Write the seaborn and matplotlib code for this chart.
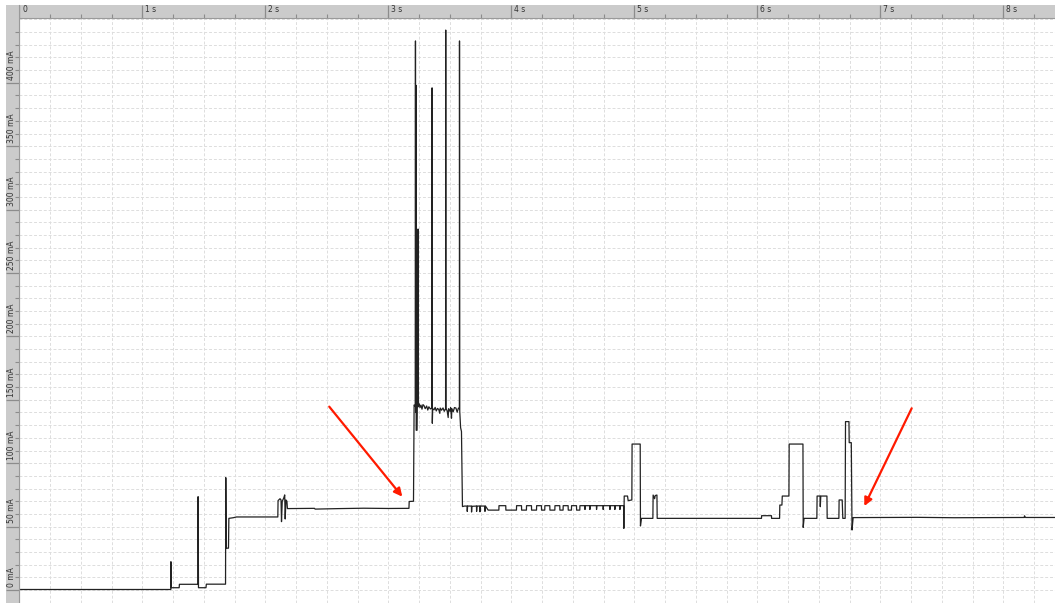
import numpy as np
import pandas as pd
import seaborn as sns
import matplotlib.pyplot as plt

# current trace (time in s, current in mA)
boot_trace = [
    (0.000, 0.4), (1.232, 0.4), (1.233, 22.3), (1.236, 1.8), (1.300, 1.8),
    (1.302, 4.5), (1.452, 4.5), (1.454, 73.6), (1.457, 1.8), (1.518, 1.8),
    (1.521, 4.6), (1.677, 4.6), (1.679, 88.6), (1.683, 33.0), (1.701, 33.0),
    (1.704, 56.5), (1.740, 57.0), (1.766, 57.6), (2.102, 57.6),
]
wake_trace = [
    (2.104, 70.5), (2.120, 72.0), (2.128, 71.0), (2.132, 53.9), (2.138, 70.0),
    (2.150, 72.5), (2.158, 75.0), (2.162, 56.0), (2.168, 71.0), (2.176, 70.0),
    (2.180, 64.2), (2.400, 64.4), (2.405, 63.8), (2.600, 64.2), (2.800, 64.5),
    (3.000, 64.3), (3.168, 64.4), (3.170, 69.8), (3.205, 70.0),
]
radio_trace = [
    (3.208, 120.0), (3.210, 145.9), (3.219, 145.0), (3.221, 433.0), (3.223, 140.0),
    (3.225, 398.0), (3.227, 126.0), (3.234, 126.0), (3.236, 145.0), (3.241, 146.0),
    (3.242, 284.7), (3.244, 144.5), (3.252, 146.8), (3.258, 143.9), (3.266, 145.8),
    (3.274, 142.6), (3.282, 146.2), (3.290, 145.5), (3.300, 143.0), (3.312, 145.1),
    (3.321, 141.9), (3.330, 144.5), (3.342, 142.8), (3.355, 143.5), (3.356, 396.0),
    (3.358, 131.5), (3.361, 143.0), (3.372, 142.1), (3.381, 144.0), (3.390, 141.2),
    (3.400, 143.2), (3.410, 142.4), (3.419, 139.3), (3.422, 143.5), (3.433, 141.8),
    (3.445, 143.6), (3.455, 140.9), (3.466, 143.0), (3.467, 441.6), (3.469, 143.0),
    (3.478, 141.5), (3.487, 136.0), (3.490, 143.0), (3.500, 141.0), (3.507, 143.8),
    (3.514, 135.5), (3.517, 143.0), (3.528, 140.6), (3.538, 143.9), (3.550, 143.5),
    (3.560, 140.2), (3.570, 143.4), (3.578, 143.0), (3.579, 433.0), (3.581, 141.0),
    (3.588, 128.0), (3.595, 125.0), (3.603, 65.8),
]
idle_trace_a = [
    (3.620, 66.2), (3.641, 66.2), (3.642, 62.0), (3.645, 66.2), (3.676, 66.2),
    (3.677, 61.5), (3.680, 66.0), (3.717, 66.2), (3.718, 62.0), (3.721, 66.2),
    (3.744, 66.2), (3.745, 61.7), (3.748, 66.2), (3.785, 66.2), (3.786, 62.0),
    (3.790, 66.2), (3.812, 63.0), (3.899, 63.0), (3.900, 66.5), (3.955, 66.5),
    (3.956, 63.0), (4.042, 63.0), (4.043, 66.5), (4.083, 66.5), (4.084, 63.0),
    (4.123, 63.0), (4.124, 66.5), (4.164, 66.5), (4.165, 63.0), (4.205, 63.0),
    (4.206, 66.5), (4.245, 66.5), (4.246, 63.0), (4.272, 63.0), (4.273, 66.5),
    (4.313, 66.5), (4.314, 63.0), (4.354, 63.0), (4.355, 66.5), (4.394, 66.5),
]
idle_trace_b = [
    (4.395, 63.0), (4.421, 63.0), (4.422, 66.5), (4.462, 66.5), (4.463, 63.0),
    (4.489, 63.0), (4.490, 66.5), (4.530, 66.5), (4.531, 63.0), (4.557, 63.0),
    (4.558, 66.5), (4.598, 66.5), (4.599, 63.5), (4.602, 66.5), (4.638, 66.5),
    (4.639, 63.5), (4.642, 66.5), (4.692, 66.5), (4.693, 63.5), (4.696, 66.5),
    (4.746, 66.5), (4.747, 63.5), (4.750, 66.5), (4.801, 66.5), (4.802, 63.5),
    (4.805, 66.5), (4.841, 66.5), (4.842, 63.5), (4.845, 66.5), (4.882, 66.5),
    (4.883, 63.5), (4.886, 66.5), (4.913, 66.5),
]
sync_trace = [
    (4.915, 48.6), (4.918, 74.1), (4.945, 74.1), (4.950, 70.5), (4.980, 71.0),
    (4.982, 115.1), (5.048, 115.1), (5.050, 50.5), (5.058, 56.5), (5.151, 56.5),
    (5.153, 74.9), (5.165, 72.0), (5.170, 74.5), (5.184, 74.9), (5.186, 56.5),
    (6.034, 56.5), (6.035, 58.6), (6.115, 58.6), (6.116, 56.5), (6.181, 56.5),
    (6.183, 67.0), (6.200, 67.0), (6.203, 74.1), (6.257, 74.1), (6.259, 115.1),
    (6.371, 115.1), (6.373, 49.4), (6.380, 56.5), (6.484, 56.5), (6.486, 74.1),
    (6.510, 74.1), (6.512, 65.7), (6.516, 74.1), (6.566, 74.1), (6.568, 56.5),
    (6.663, 56.5), (6.665, 71.0), (6.690, 71.0), (6.695, 56.5), (6.714, 56.5),
    (6.717, 132.8), (6.745, 132.8), (6.747, 116.2), (6.764, 116.2), (6.770, 47.3),
    (6.779, 57.1),
]
tail_trace = [
    (6.790, 57.1), (7.300, 57.3), (7.600, 57.0), (8.000, 57.2), (8.170, 57.2),
    (8.172, 58.5), (8.180, 57.2), (8.420, 57.2),
]

time_ticks = [0, 1, 2, 3, 4, 5, 6, 7, 8]
time_labels = ["0", "1 s", "2 s", "3 s", "4 s", "5 s", "6 s", "7 s", "8 s"]
current_ticks = [0, 50, 100, 150, 200, 250, 300, 350, 400]
current_labels = ["0 mA", "50 mA", "100 mA", "150 mA", "200 mA",
                  "250 mA", "300 mA", "350 mA", "400 mA"]

# arrows pointing at the idle levels (start -> tip)
arrows = [((2.520, 144.6), (3.114, 73.6)), ((7.255, 143.3), (6.870, 66.2))]

trace = pd.DataFrame(boot_trace + wake_trace + radio_trace + idle_trace_a
                     + idle_trace_b + sync_trace + tail_trace,
                     columns=["t", "mA"])

sns.set_style("white")
W, H = 1055, 603
fig = plt.figure(figsize=(W / 100, H / 100), dpi=100)

xlim = (-0.002, 8.42)
ylim = (-10.25, 451.1)
ruler_gray = "#cbcbcb"
tick_gray = "#8c8c8c"

# main plot area
ax = fig.add_axes([19 / W, 0, (W - 19) / W, (H - 18) / H])
ax.set_xlim(*xlim)
ax.set_ylim(*ylim)
ax.set_xticks(np.arange(0, 8.5, 0.25))
ax.set_yticks(np.arange(0, 451, 10))
ax.tick_params(length=0, labelbottom=False, labelleft=False)
ax.grid(True, color="#dddddd", lw=0.7, ls=(0, (3, 2)))
for s in ["top", "right", "bottom"]:
    ax.spines[s].set_visible(False)
ax.spines["left"].set_color("#aaaaaa")
ax.spines["left"].set_linewidth(0.8)

sns.lineplot(data=trace, x="t", y="mA", sort=False, estimator=None,
             color="#222222", linewidth=0.9, ax=ax)
ax.set_xlabel("")
ax.set_ylabel("")

for start, tip in arrows:
    ax.annotate("", xy=tip, xytext=start,
                arrowprops=dict(arrowstyle="-|>", color="#ff1a00", lw=1.6,
                                mutation_scale=12, shrinkA=0, shrinkB=0))

# top time ruler
axt = fig.add_axes([19 / W, 1 - 18 / H, (W - 19) / W, 13 / H])
axt.set_facecolor(ruler_gray)
axt.set_xlim(*xlim)
axt.set_ylim(0, 1)
axt.set_xticks([])
axt.set_yticks([])
for s in ["top", "right", "left"]:
    axt.spines[s].set_visible(False)
axt.spines["bottom"].set_color("#9a9a9a")
axt.vlines(np.arange(0.25, 8.5, 0.25), 0, 0.3, color=tick_gray, lw=0.8)
axt.vlines(time_ticks, 0, 1, color=tick_gray, lw=0.9)
for tk, lab in zip(time_ticks, time_labels):
    axt.text(tk + 0.025, 0.62, lab, fontsize=5.5, color="#333333",
             ha="left", va="center")

# left current ruler
top_mA = (590 - 5) / 1.268
axl = fig.add_axes([6 / W, 0, 12.5 / W, (H - 5) / H])
axl.set_facecolor(ruler_gray)
axl.set_xlim(0, 1)
axl.set_ylim(ylim[0], top_mA)
axl.set_xticks([])
axl.set_yticks([])
for s in ["top", "left", "bottom"]:
    axl.spines[s].set_visible(False)
axl.spines["right"].set_color("#9a9a9a")
minor = [v for v in range(10, 451, 10) if v % 50]
axl.hlines(minor, 0.7, 1, color=tick_gray, lw=0.8)
axl.hlines(current_ticks, 0, 1, color=tick_gray, lw=0.9)
for tk, lab in zip(current_ticks, current_labels):
    axl.text(0.45, tk + 2.5, lab, fontsize=5.5, color="#333333",
             rotation=90, ha="center", va="bottom")

fig.savefig("out.png", dpi=100)
